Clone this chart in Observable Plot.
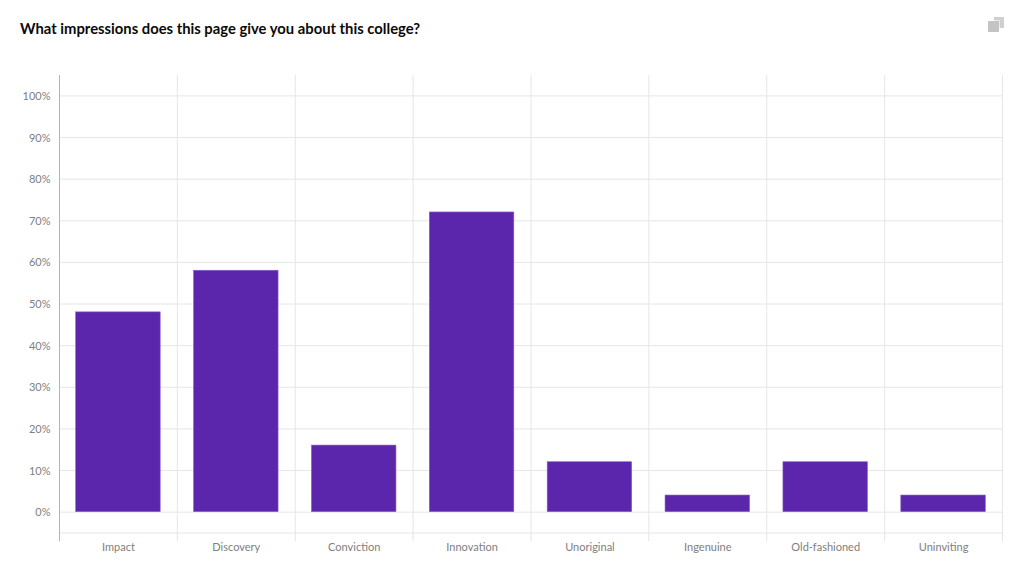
<!DOCTYPE html>
<html>
<head>
<meta charset="utf-8">
<script src="https://cdn.jsdelivr.net/npm/d3@7"></script>
<script src="https://cdn.jsdelivr.net/npm/@observablehq/plot@0.6"></script>
<style>
html,body{margin:0;padding:0;background:#fff;overflow:hidden}
#head{position:relative;height:60px;width:1024px}
#title{position:absolute;left:20px;top:17.5px;font:700 14.8px/20px Lato,sans-serif;color:#0a0a0a;white-space:nowrap}
#icon{position:absolute;left:988px;top:16px;width:16px;height:17px}
#icon i{position:absolute;display:block}
#icon .b{left:5.5px;top:0.5px;width:10px;height:11px;background:#cfcfcf}
#icon .f{left:0;top:5px;width:10.5px;height:11px;background:#c4c4c4;box-shadow:0 0 0 .6px #fff}
svg{display:block}
</style>
</head>
<body>
<div id="head">
  <div id="title">What impressions does this page give you about this college?</div>
  <div id="icon"><i class="b"></i><i class="f"></i></div>
</div>
<div id="chart"></div>
<script>
const categories = ["Impact","Discovery","Conviction","Innovation","Unoriginal","Ingenuine","Old-fashioned","Uninviting"];
const percents = [48,58,16,72,12,4,12,4];
const yTicks = [0,10,20,30,40,50,60,70,80,90,100];
const rows = categories.map((category,i)=>({category,percent:percents[i]}));

const W = 1024, H = 507, mL = 59, mR = 22, mT = 15, mB = 34.5;
const halfStep = (W-mL-mR)/categories.length/2;
const last = categories[categories.length-1];

const chart = Plot.plot({
  width: W, height: H,
  marginLeft: mL, marginRight: mR, marginTop: mT, marginBottom: mB,
  style: {fontFamily: "Lato, sans-serif", background: "#fff"},
  x: {type:"band", domain: categories, paddingInner: 0.283, paddingOuter: 0.1415, round:false, label: null},
  y: {domain: [-5,104.9], label: null},
  marks: [
    Plot.ruleY(yTicks, {stroke:"#e6e6e6", strokeWidth:1}),
    Plot.ruleY([-5], {stroke:"#e6e6e6", strokeWidth:1}),
    Plot.ruleX(categories, {x:d=>d, y1:-7.1, y2:104.9, dx:-halfStep, stroke:"#e6e6e6", strokeWidth:1}),
    Plot.ruleX([last], {x:d=>d, y1:-7.1, y2:104.9, dx:halfStep, stroke:"#e6e6e6", strokeWidth:1}),
    Plot.ruleX([categories[0]], {x:d=>d, y1:-7.1, y2:104.9, dx:-halfStep, stroke:"#b4b4b4", strokeWidth:1}),
    Plot.barY(rows, {x:"category", y1:0, y2:"percent", fill:"#5b26ab", stroke:"#8a5fcb", strokeWidth:0.6}),
    Plot.axisY({ticks:yTicks, tickSize:0, tickPadding:9, tickFormat:d=>d+"%", fontSize:11, dy:0.5, color:"#808080", label:null}),
    Plot.axisX({tickSize:0, tickPadding:10, fontSize:11, color:"#808080", label:null})
  ]
});
document.getElementById("chart").appendChild(chart);
</script>
</body>
</html>
